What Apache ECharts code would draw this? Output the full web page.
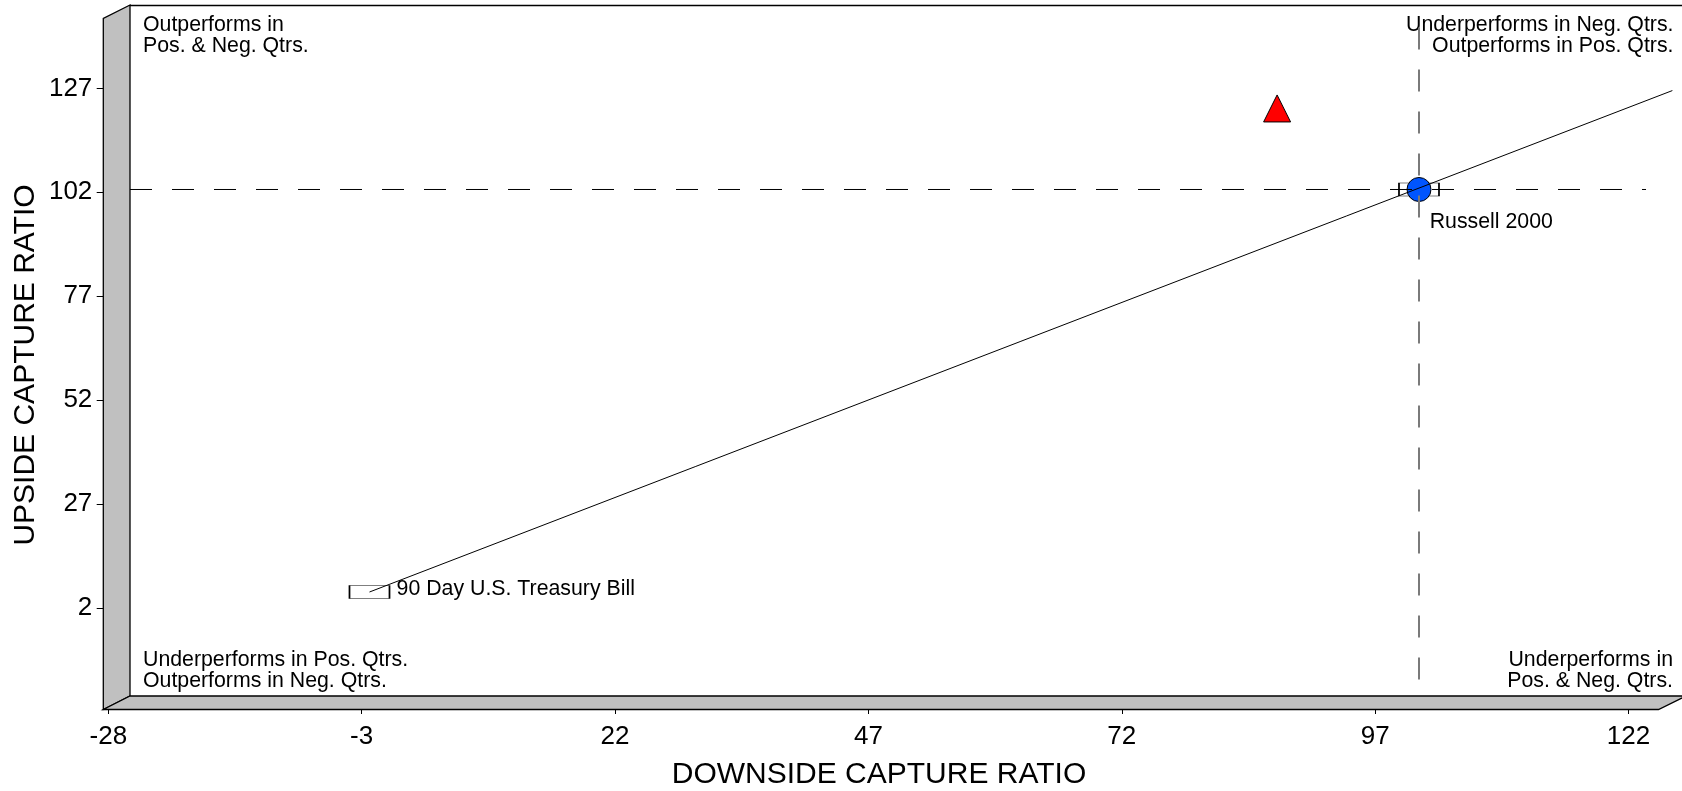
<!DOCTYPE html>
<html><head><meta charset="utf-8">
<script src="https://cdn.jsdelivr.net/npm/echarts@6/dist/echarts.min.js"></script>
<style>html,body{margin:0;padding:0;background:#fff}#c{width:1682px;height:791px}</style>
</head><body><div id="c"></div>
<script>
// ---- data ----
const xTickValues = [-28, -3, 22, 47, 72, 97, 122];     // downside capture tick labels
const yTickValues = [2, 27, 52, 77, 102, 127];          // upside capture tick labels
const managerPoint = [86.0, 119.5];                      // [downside, upside]
const benchmarkPoint = [100, 100];
const tbillPoint = [-3.55, 3.15];
const marketLineEnd = [125, 123.8];
const benchmarkName = 'Russell 2000';
const tbillName = '90 Day U.S. Treasury Bill';
const xTitle = 'DOWNSIDE CAPTURE RATIO';
const yTitle = 'UPSIDE CAPTURE RATIO';
const quadTopLeft = 'Outperforms in\nPos. & Neg. Qtrs.';
const quadTopRight = 'Underperforms in Neg. Qtrs.\nOutperforms in Pos. Qtrs.';
const quadBottomLeft = 'Underperforms in Pos. Qtrs.\nOutperforms in Neg. Qtrs.';
const quadBottomRight = 'Underperforms in\nPos. & Neg. Qtrs.';
// reference-line extents (data units)
const hRefLine = [[-27.18, 100], [122.4, 100]];
const vRefLine = [[100, -17.9], [100, 141.6]];

const FONT = '"Liberation Sans", Arial, Helvetica, sans-serif';
const chart = echarts.init(document.getElementById('c'), null, {renderer: 'canvas'});

const step = xTickValues[1] - xTickValues[0];
const ystep = yTickValues[1] - yTickValues[0];

const labelStyle = {fontSize: 21.3, fontFamily: FONT, color: '#000', opacity: 1};

const option = {
  backgroundColor: '#fff',
  animation: false,
  grid: [
    {left: 130, top: 4.5, width: 1552, height: 691, containLabel: false},
    {left: 108.3, top: 600, width: 1520.2, height: 109, containLabel: false},
    {left: 103.3, top: 88.4, width: 50, height: 519.6, containLabel: false}
  ],
  xAxis: [
    {gridIndex: 0, type: 'value', min: -27.18, max: 125.95, show: false},
    {gridIndex: 1, type: 'value', min: xTickValues[0], max: xTickValues[xTickValues.length - 1], interval: step,
      axisLine: {show: false}, splitLine: {show: false},
      axisTick: {show: true, length: 5, lineStyle: {color: '#000', width: 1}},
      axisLabel: {fontSize: 26, fontFamily: FONT, color: '#000', margin: 15}},
    {gridIndex: 2, type: 'value', show: false}
  ],
  yAxis: [
    {gridIndex: 0, type: 'value', min: -21.75, max: 144.51, show: false},
    {gridIndex: 1, type: 'value', show: false},
    {gridIndex: 2, type: 'value', min: yTickValues[0], max: yTickValues[yTickValues.length - 1], interval: ystep,
      axisLine: {show: false}, splitLine: {show: false},
      axisTick: {show: true, length: 6.6, lineStyle: {color: '#000', width: 1}},
      axisLabel: {fontSize: 26, fontFamily: FONT, color: '#000', margin: 11}}
  ],
  series: [
    {type: 'line', name: 'market line', xAxisIndex: 0, yAxisIndex: 0, data: [tbillPoint, marketLineEnd],
      showSymbol: false, silent: true, z: 6, lineStyle: {color: '#000', width: 1}},
    {type: 'line', name: 'h ref', data: hRefLine, showSymbol: false, silent: true, z: 6,
      lineStyle: {color: '#000', width: 1, type: [22, 20]}},
    {type: 'line', name: 'v ref', data: vRefLine, showSymbol: false, silent: true, z: 6,
      lineStyle: {color: '#7a7a7a', width: 2, type: [22, 20]}},
    {type: 'scatter', name: tbillName, data: [tbillPoint], symbol: 'rect', symbolSize: [40, 13], z: 3,
      itemStyle: {color: 'rgba(255,255,255,0)', borderColor: '#000', borderWidth: 1, opacity: 1},
      label: Object.assign({show: true, formatter: tbillName, position: [48, 3.6], align: 'left', verticalAlign: 'middle'}, labelStyle)},
    {type: 'scatter', name: benchmarkName + ' box', data: [benchmarkPoint], symbol: 'rect', symbolSize: [40, 13], z: 3,
      itemStyle: {color: 'rgba(255,255,255,0)', borderColor: '#000', borderWidth: 1, opacity: 1},
      label: Object.assign({show: true, formatter: benchmarkName, position: [31.6, 39.2], align: 'left', verticalAlign: 'middle'}, labelStyle)},
    {type: 'scatter', name: benchmarkName, data: [benchmarkPoint], symbol: 'circle', symbolSize: 24, z: 4,
      itemStyle: {color: '#0055ff', borderColor: '#000', borderWidth: 1, opacity: 1}},
    {type: 'scatter', name: 'Manager', data: [managerPoint], symbol: 'triangle', symbolSize: [27, 27], z: 4,
      itemStyle: {color: '#ff0000', borderColor: '#000', borderWidth: 1, opacity: 1}}
  ],
  graphic: [
    {type: 'polygon', z: 1, silent: true, shape: {points: [[130, 5], [103.3, 18.5], [103.3, 709.5], [130, 696]]},
      style: {fill: '#c0c0c0', stroke: '#000', lineWidth: 1.3}},
    {type: 'polygon', z: 1, silent: true, shape: {points: [[130, 696], [1686, 696], [1658.5, 709.5], [103.3, 709.5]]},
      style: {fill: '#c0c0c0', stroke: '#000', lineWidth: 1.3}},
    {type: 'polyline', z: 1, silent: true, shape: {points: [[130, 5.5], [1682, 5.5]]},
      style: {stroke: '#000', lineWidth: 1.5}},
    {type: 'text', z: 2, silent: true, style: {text: quadTopLeft, x: 143, y: 15, fontSize: 21.3, fontFamily: FONT, fill: '#000', lineHeight: 21, align: 'left', verticalAlign: 'top'}},
    {type: 'text', z: 2, silent: true, style: {text: quadTopRight, x: 1673.5, y: 15, fontSize: 21.3, fontFamily: FONT, fill: '#000', lineHeight: 21, align: 'right', verticalAlign: 'top'}},
    {type: 'text', z: 2, silent: true, style: {text: quadBottomLeft, x: 143, y: 650, fontSize: 21.3, fontFamily: FONT, fill: '#000', lineHeight: 21, align: 'left', verticalAlign: 'top'}},
    {type: 'text', z: 2, silent: true, style: {text: quadBottomRight, x: 1673, y: 650, fontSize: 21.3, fontFamily: FONT, fill: '#000', lineHeight: 21, align: 'right', verticalAlign: 'top'}},
    {type: 'text', z: 2, silent: true, style: {text: xTitle, x: 879, y: 774.5, fontSize: 30, fontFamily: FONT, fill: '#000', align: 'center', verticalAlign: 'middle'}},
    {type: 'text', z: 2, silent: true, x: 26, y: 365, rotation: Math.PI / 2,
      style: {text: yTitle, x: 0, y: 0, fontSize: 30, fontFamily: FONT, fill: '#000', align: 'center', verticalAlign: 'middle'}}
  ]
};
chart.setOption(option);
</script>
</body></html>
